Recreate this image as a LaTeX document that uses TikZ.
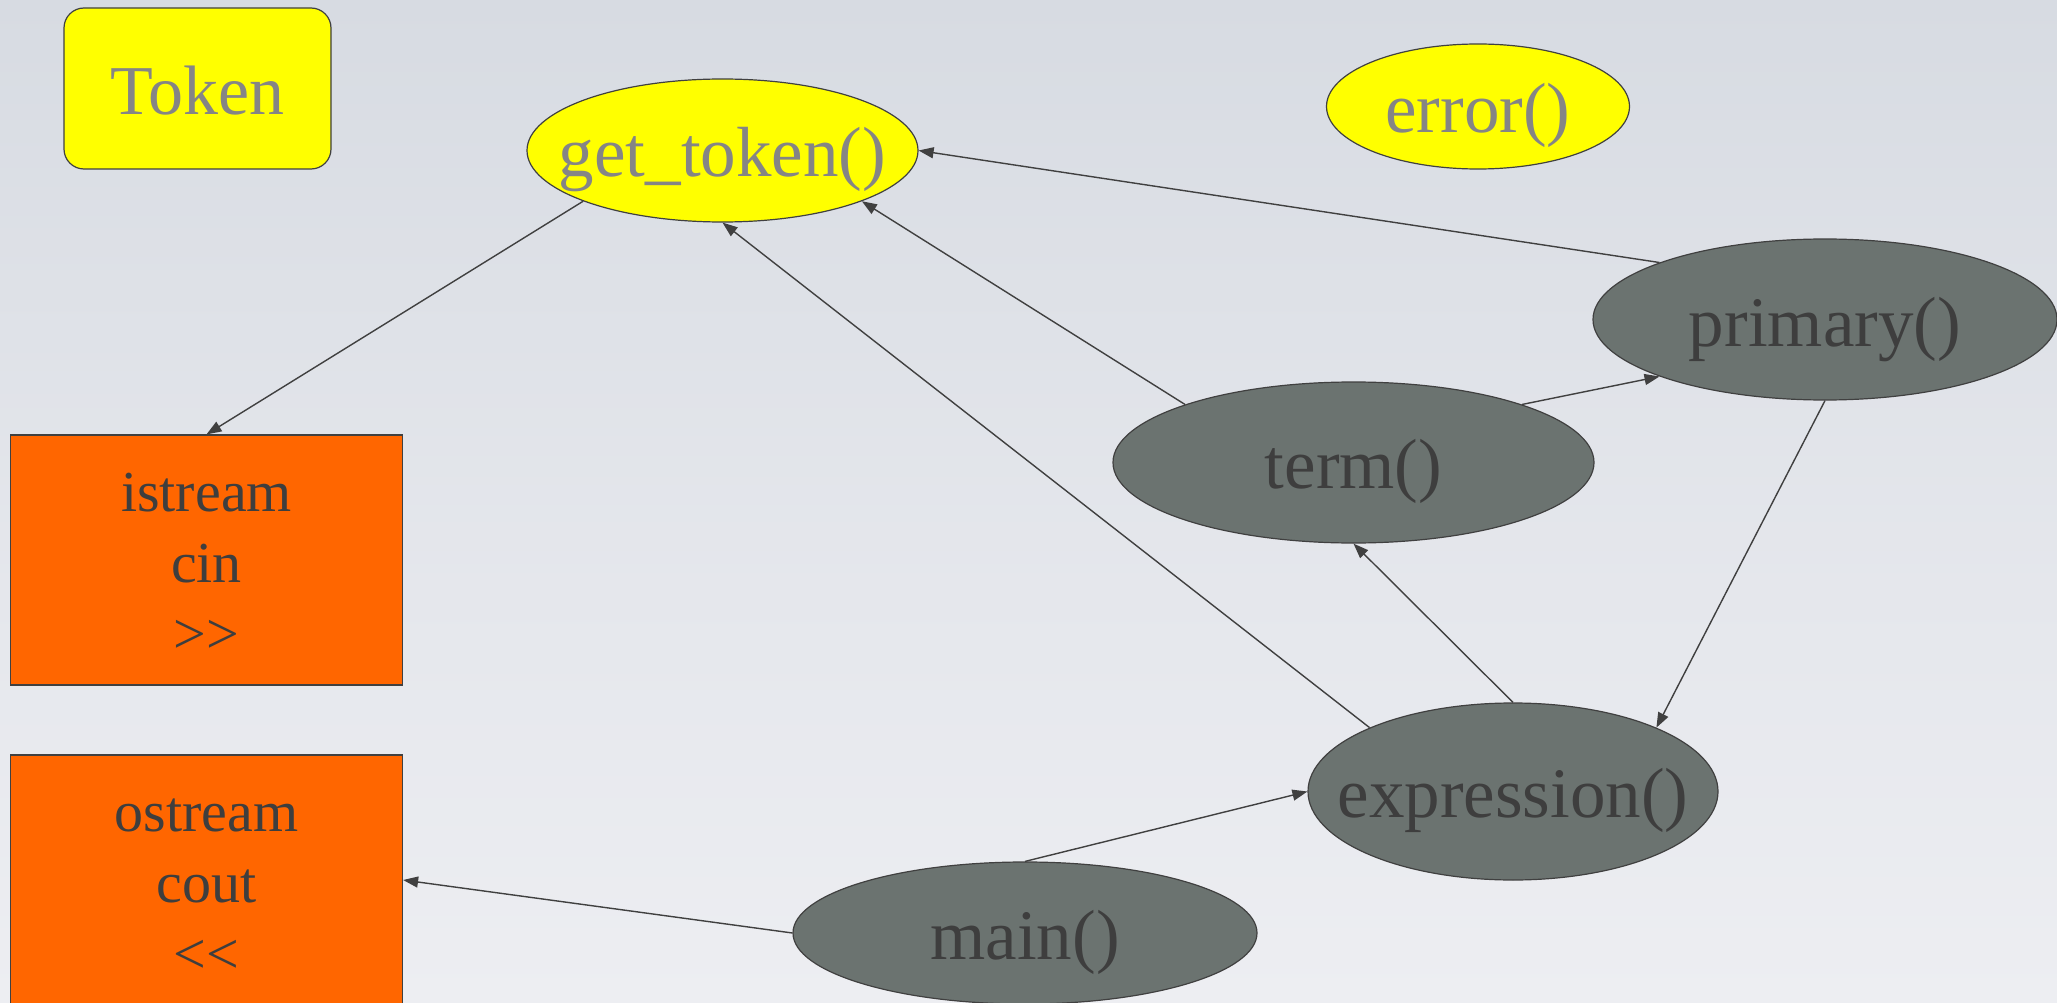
\documentclass[tikz,border=0pt]{standalone}
\usepackage{fontspec}
\setmainfont{Liberation Serif}
\usetikzlibrary{shapes.geometric,arrows.meta}
\definecolor{bgtop}{HTML}{D7DBE2}
\definecolor{bgbot}{HTML}{EDEEF2}
\definecolor{lineC}{HTML}{404040}
\definecolor{yellowC}{HTML}{FFFF00}
\definecolor{grayT}{HTML}{858585}
\definecolor{darkF}{HTML}{6B7370}
\definecolor{darkT}{HTML}{3E3E3E}
\definecolor{orangeC}{HTML}{FF6600}
\newcommand{\ctext}[2]{\raisebox{-#1pt}[0pt][0pt]{\makebox[0pt]{#2}}}
\newcommand{\boxtext}[1]{\parbox[c][250pt][t]{392pt}{\centering\rule{0pt}{76pt}#1}}
\tikzset{
  ellbase/.style={ellipse, draw=lineC, line width=1.2pt, inner sep=0pt, font=\fontsize{71}{85}\selectfont},
  yel/.style={ellbase, fill=yellowC, text=grayT},
  dark/.style={ellbase, fill=darkF, text=darkT},
  obox/.style={rectangle, draw=lineC, line width=1.2pt, fill=orangeC, text=darkT, inner sep=0pt, font=\fontsize{58}{71}\selectfont},
  tokbox/.style={rectangle, rounded corners=20pt, draw=lineC, line width=1.2pt, fill=yellowC, text=grayT, inner sep=0pt, minimum width=267pt, minimum height=161pt, font=\fontsize{70}{84}\selectfont},
  arr/.style={draw=lineC, line width=1.4pt, -{Triangle[length=15pt,width=11pt]}}
}
\begin{document}
\begin{tikzpicture}[x=1pt,y=-1pt]
\shade[top color=bgtop, bottom color=bgbot, middle color=bgtop!45!bgbot] (0,0) rectangle (2057,1003);
\useasboundingbox (0,0) rectangle (2057,1003);

\node[tokbox] (tok) at (197.5,88.5) {\ctext{26.5}{Token}};
\node[yel, minimum width=391pt, minimum height=143pt] (gt) at (722.5,150.5) {\ctext{26}{get\_token()}};
\node[yel, minimum width=303pt, minimum height=125pt] (err) at (1478,106.5) {\ctext{26}{error()}};
\node[dark, minimum width=464pt, minimum height=161pt] (pr) at (1825,319.5) {\ctext{27}{primary()}};
\node[dark, minimum width=481pt, minimum height=161pt] (tm) at (1353.5,462.5) {\ctext{26}{term()}};
\node[dark, minimum width=410pt, minimum height=177pt] (ex) at (1513,791.5) {\ctext{26}{expression()}};
\node[dark, minimum width=464pt, minimum height=142pt] (mn) at (1025,933) {\ctext{26}{main()}};
\node[obox] (is) at (206.5,560) {\boxtext{istream\\cin\\>\kern0pt>}};
\node[obox] (os) at (206.5,880) {\boxtext{ostream\\cout\\<\kern0pt<}};

\draw[arr] (gt.200) -- (is.north);
\draw[arr] (mn.west) -- (os.east);
\draw[arr] (mn.north) -- (ex.west);
\draw[arr] (ex.north) -- (tm.south);
\draw[arr] (ex.156) -- (gt.south);
\draw[arr] (tm.161) -- (gt.-20);
\draw[arr] (pr.161) -- (gt.east);
\draw[arr] (tm.19) -- (pr.199);
\draw[arr] (pr.south) -- (ex.24);
\end{tikzpicture}
\end{document}
